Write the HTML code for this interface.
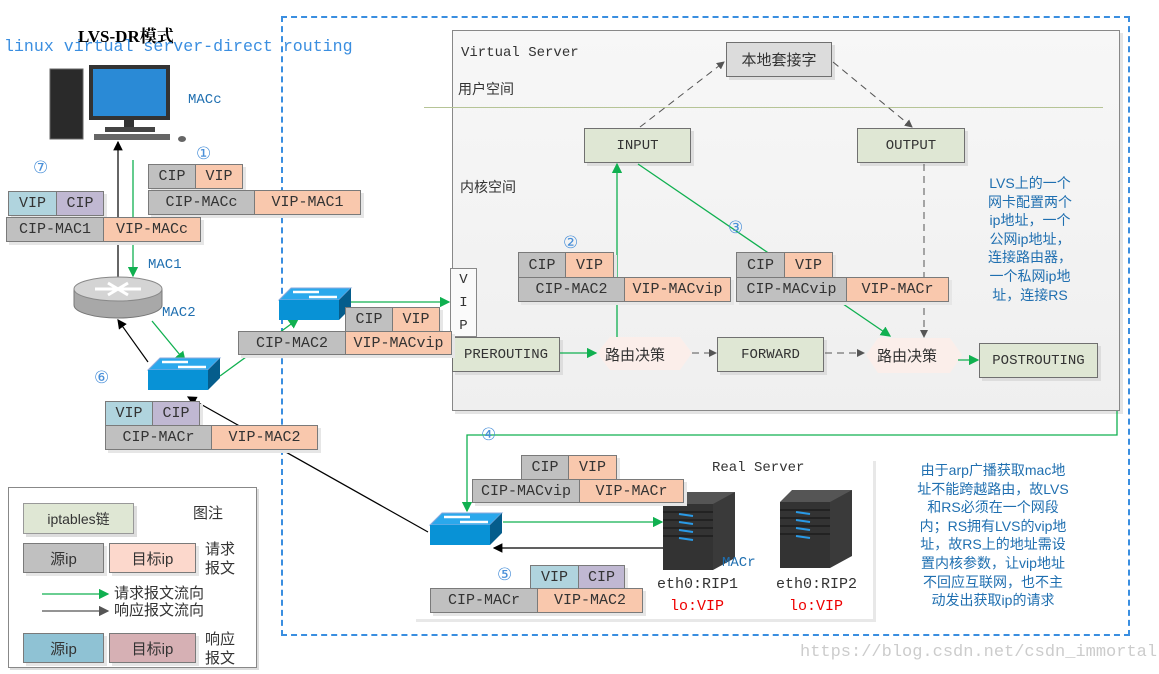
<!DOCTYPE html>
<html><head><meta charset="utf-8"><style>
body{margin:0;width:1159px;height:674px;background:#fff;position:relative;overflow:hidden;font-family:"Liberation Mono","Noto Sans CJK SC",monospace;}
.a{position:absolute;}
.c{position:absolute;box-sizing:border-box;border:1.5px solid #7a7a7a;font-size:15px;color:#333;display:flex;align-items:center;justify-content:center;box-shadow:3px 3px 0 #e6e6e6;}
.g{background:#c0c0c0}.s{background:#f9c8ad}.b{background:#b0d4de}.p{background:#c0b8d2}
.ch{position:absolute;box-sizing:border-box;border:1.5px solid #707070;background:#dfe7d4;font-size:14px;color:#333;display:flex;align-items:center;justify-content:center;box-shadow:3px 3px 0 #ddd;}
.cn{font-family:"Liberation Sans","Noto Sans CJK SC",sans-serif;}
.num{position:absolute;font-size:17px;color:#4a90d9;font-family:"DejaVu Sans",sans-serif;}
.blue{color:#1f6fb0;}
</style></head><body>
<div class="a" style="left:281px;top:16px;width:849px;height:620px;border:2px dashed #3a8ee0;box-sizing:border-box"></div>
<div class="a" style="left:452px;top:30px;width:668px;height:381px;background:linear-gradient(#f7f7f7,#efefef);border:1px solid #888;box-sizing:border-box;box-shadow:3px 3px 0 #e4e4e4"></div>
<div class="a" style="left:424px;top:107px;width:679px;height:1px;background:#b6c496"></div>
<div class="a" style="left:413px;top:458px;width:460px;height:161px;background:#fff;box-shadow:3px 3px 0 #e8e8e8"></div>

<div class="a" style="left:78px;top:22px;font-family:'Liberation Serif','Noto Serif CJK SC',serif;font-weight:bold;font-size:17px;color:#000">LVS-DR模式</div>
<div class="a" style="left:4px;top:37px;font-size:16.6px;color:#3a8ee0">linux virtual server-direct routing</div>

<div class="a" style="left:461px;top:45px;font-size:14px;color:#333">Virtual Server</div>
<div class="a cn" style="left:458px;top:79px;font-size:14px;color:#333">用户空间</div>
<div class="a cn" style="left:460px;top:177px;font-size:14px;color:#333">内核空间</div>

<div class="ch cn" style="left:726px;top:42px;width:106px;height:35px;background:#dcdcdc;font-size:15px">本地套接字</div>
<div class="ch" style="left:584px;top:128px;width:107px;height:35px">INPUT</div>
<div class="ch" style="left:857px;top:128px;width:108px;height:35px">OUTPUT</div>
<div class="a" style="left:450px;top:268px;width:27px;height:69px;background:#fafafa;border:1px solid #888;box-sizing:border-box;font-size:14px;line-height:23px;text-align:center;color:#333">V<br>I<br>P</div>
<div class="ch" style="left:452px;top:337px;width:108px;height:35px">PREROUTING</div>
<div class="ch" style="left:717px;top:337px;width:107px;height:35px">FORWARD</div>
<div class="ch" style="left:979px;top:343px;width:119px;height:35px">POSTROUTING</div>

<svg class="a" style="left:0;top:0" width="1159" height="674">
<defs>
<marker id="gm" markerWidth="8" markerHeight="8" refX="7" refY="4" orient="auto"><path d="M0,0L8,4L0,8z" fill="#10b050"/></marker>
<marker id="km" markerWidth="8" markerHeight="8" refX="7" refY="4" orient="auto"><path d="M0,0L8,4L0,8z" fill="#000"/></marker>
<marker id="dm" markerWidth="8" markerHeight="8" refX="7" refY="4" orient="auto"><path d="M0,0L8,4L0,8z" fill="#555"/></marker>
<g id="sw">
<polygon points="0,12 12,0 72,0 60,12" fill="#2aa8ec" stroke="#8ad"/>
<rect x="0" y="12" width="60" height="20" fill="#0892d6"/>
<polygon points="60,12 72,0 72,20 60,32" fill="#055d8c"/>
<path d="M14,4 L40,4 M30,9 L58,9" stroke="#fff" stroke-width="2.5"/>
</g>
<g id="sv">
<polygon points="0,12 12,0 72,0 60,12" fill="#555"/>
<rect x="0" y="12" width="50" height="66" fill="#333"/>
<polygon points="50,12 72,0 72,66 50,78" fill="#3a3a3a"/>
<path d="M0,20 L50,20 M0,28 L50,28 M0,36 L50,36 M0,44 L50,44" stroke="#222" stroke-width="2"/>
<path d="M16,22 L30,24 M16,30 L30,32 M16,38 L30,40 M16,46 L30,48" stroke="#2a9ae6" stroke-width="2"/>
</g>
</defs>
<polygon points="610,337 680,337 692,353 680,370 610,370 597,353" fill="#fbeeea"/>
<polygon points="878,338 950,338 962,355 950,373 878,373 866,355" fill="#fbeeea"/>
<g stroke="#10b050" stroke-width="1.3" fill="none" marker-end="url(#gm)">
<line x1="133" y1="160" x2="133" y2="276"/>
<line x1="152" y1="321" x2="185" y2="361"/>
<line x1="220" y1="376" x2="298" y2="319"/>
<line x1="351" y1="302" x2="449" y2="302"/>
<line x1="560" y1="353" x2="596" y2="353"/>
<line x1="617" y1="337" x2="617" y2="164"/>
<line x1="638" y1="164" x2="890" y2="336"/>
<line x1="958" y1="360" x2="978" y2="360"/>
<polyline points="1117,411 1117,435 467,435 467,511"/>
<line x1="503" y1="522" x2="662" y2="522"/>
</g>
<g stroke="#000" stroke-width="1.2" fill="none" marker-end="url(#km)">
<line x1="118" y1="278" x2="118" y2="142"/>
<line x1="148" y1="362" x2="118" y2="320"/>
<line x1="428" y1="532" x2="188" y2="397"/>
<line x1="663" y1="548" x2="494" y2="548"/>
</g>
<g stroke="#555" stroke-width="1" stroke-dasharray="7,5" fill="none" marker-end="url(#dm)">
<line x1="640" y1="127" x2="724" y2="62"/>
<line x1="833" y1="62" x2="912" y2="127"/>
<line x1="692" y1="353" x2="716" y2="353"/>
<line x1="825" y1="353" x2="864" y2="353"/>
<line x1="924" y1="164" x2="924" y2="337"/>
</g>
<rect x="50" y="69" width="33" height="70" fill="#2a2a2a" stroke="#666"/>
<rect x="89" y="65" width="81" height="55" fill="#333"/>
<rect x="93" y="69" width="73" height="47" fill="#2a8ad6"/>
<rect x="124" y="120" width="10" height="8" fill="#333"/>
<rect x="105" y="127" width="50" height="5" fill="#444"/>
<rect x="94" y="134" width="76" height="6" fill="#666"/>
<ellipse cx="182" cy="139" rx="4" ry="3" fill="#666"/>
<path d="M74,289 L74,305 A44,13 0 0 0 162,305 L162,289 Z" fill="#a8a8a8" stroke="#777"/>
<ellipse cx="118" cy="289" rx="44" ry="12" fill="#d4d4d4" stroke="#888"/>
<path d="M95,289 L141,289 M108,283 L128,295 M128,283 L108,295" stroke="#fff" stroke-width="3"/>
<use href="#sw" x="148" y="358"/>
<use href="#sw" x="279" y="288"/>
<use href="#sw" x="430" y="513"/>
<use href="#sv" x="663" y="492"/>
<use href="#sv" x="780" y="490"/>
</svg>

<div class="a cn" style="left:605px;top:344px;font-size:15px;color:#333">路由决策</div>
<div class="a cn" style="left:877px;top:345px;font-size:15px;color:#333">路由决策</div>

<div class="c g" style="left:148px;top:164px;width:48px;height:25px">CIP</div>
<div class="c s" style="left:195px;top:164px;width:48px;height:25px">VIP</div>
<div class="c g" style="left:148px;top:190px;width:107px;height:25px">CIP-MACc</div>
<div class="c s" style="left:254px;top:190px;width:107px;height:25px">VIP-MAC1</div>

<div class="c b" style="left:8px;top:191px;width:49px;height:25px">VIP</div>
<div class="c p" style="left:56px;top:191px;width:48px;height:25px">CIP</div>
<div class="c g" style="left:6px;top:217px;width:98px;height:25px">CIP-MAC1</div>
<div class="c s" style="left:103px;top:217px;width:98px;height:25px">VIP-MACc</div>

<div class="c g" style="left:345px;top:307px;width:48px;height:25px">CIP</div>
<div class="c s" style="left:392px;top:307px;width:48px;height:25px">VIP</div>
<div class="c g" style="left:238px;top:331px;width:108px;height:24px">CIP-MAC2</div>
<div class="c s" style="left:345px;top:331px;width:107px;height:24px">VIP-MACvip</div>

<div class="c b" style="left:105px;top:401px;width:48px;height:25px">VIP</div>
<div class="c p" style="left:152px;top:401px;width:48px;height:25px">CIP</div>
<div class="c g" style="left:105px;top:425px;width:107px;height:25px">CIP-MACr</div>
<div class="c s" style="left:211px;top:425px;width:107px;height:25px">VIP-MAC2</div>

<div class="c g" style="left:518px;top:252px;width:48px;height:26px">CIP</div>
<div class="c s" style="left:565px;top:252px;width:49px;height:26px">VIP</div>
<div class="c g" style="left:518px;top:277px;width:107px;height:25px">CIP-MAC2</div>
<div class="c s" style="left:624px;top:277px;width:107px;height:25px">VIP-MACvip</div>

<div class="c g" style="left:736px;top:252px;width:49px;height:26px">CIP</div>
<div class="c s" style="left:784px;top:252px;width:49px;height:26px">VIP</div>
<div class="c g" style="left:736px;top:277px;width:111px;height:25px">CIP-MACvip</div>
<div class="c s" style="left:846px;top:277px;width:103px;height:25px">VIP-MACr</div>

<div class="c g" style="left:521px;top:455px;width:48px;height:25px">CIP</div>
<div class="c s" style="left:568px;top:455px;width:49px;height:25px">VIP</div>
<div class="c g" style="left:472px;top:479px;width:108px;height:24px">CIP-MACvip</div>
<div class="c s" style="left:579px;top:479px;width:105px;height:24px">VIP-MACr</div>

<div class="c b" style="left:530px;top:565px;width:49px;height:25px">VIP</div>
<div class="c p" style="left:578px;top:565px;width:47px;height:25px">CIP</div>
<div class="c g" style="left:430px;top:588px;width:108px;height:25px">CIP-MACr</div>
<div class="c s" style="left:537px;top:588px;width:106px;height:25px">VIP-MAC2</div>

<div class="num" style="left:196px;top:144px">①</div>
<div class="num" style="left:33px;top:158px">⑦</div>
<div class="num" style="left:94px;top:368px">⑥</div>
<div class="num" style="left:563px;top:233px">②</div>
<div class="num" style="left:728px;top:218px">③</div>
<div class="num" style="left:481px;top:425px">④</div>
<div class="num" style="left:497px;top:565px">⑤</div>

<div class="a blue" style="left:188px;top:92px;font-size:14px">MACc</div>
<div class="a blue" style="left:148px;top:257px;font-size:14px">MAC1</div>
<div class="a blue" style="left:162px;top:305px;font-size:14px">MAC2</div>
<div class="a blue" style="left:722px;top:555px;font-size:14px">MACr</div>
<div class="a" style="left:712px;top:460px;font-size:14px;color:#333">Real Server</div>
<div class="a" style="left:657px;top:576px;font-size:15px;color:#333">eth0:RIP1</div>
<div class="a" style="left:776px;top:576px;font-size:15px;color:#333">eth0:RIP2</div>
<div class="a" style="left:670px;top:598px;font-size:15px;color:#e00">lo:VIP</div>
<div class="a" style="left:789px;top:598px;font-size:15px;color:#e00">lo:VIP</div>

<div class="a cn blue" style="left:975px;top:174px;width:110px;font-size:14px;line-height:18.6px;text-align:center">LVS上的一个<br>网卡配置两个<br>ip地址，一个<br>公网ip地址，<br>连接路由器，<br>一个私网ip地<br>址，连接RS</div>
<div class="a cn blue" style="left:908px;top:461px;width:170px;font-size:14px;line-height:18.6px;text-align:center">由于arp广播获取mac地<br>址不能跨越路由，故LVS<br>和RS必须在一个网段<br>内；RS拥有LVS的vip地<br>址，故RS上的地址需设<br>置内核参数，让vip地址<br>不回应互联网，也不主<br>动发出获取ip的请求</div>

<div class="a" style="left:8px;top:487px;width:249px;height:181px;border:1.5px solid #888;box-sizing:border-box;background:#fff;box-shadow:2px 2px 0 #ddd"></div>
<svg class="a" style="left:0;top:0" width="260" height="674">
<defs>
<marker id="gm2" markerWidth="8" markerHeight="8" refX="7" refY="4" orient="auto"><path d="M0,0L8,4L0,8z" fill="#10b050"/></marker>
<marker id="dm2" markerWidth="8" markerHeight="8" refX="7" refY="4" orient="auto"><path d="M0,0L8,4L0,8z" fill="#555"/></marker>
</defs>
<line x1="42" y1="594" x2="108" y2="594" stroke="#10b050" stroke-width="1.3" marker-end="url(#gm2)"/>
<line x1="42" y1="611" x2="108" y2="611" stroke="#555" stroke-width="1.3" marker-end="url(#dm2)"/>
</svg>
<div class="ch cn" style="left:23px;top:503px;width:111px;height:31px;border-color:#999">iptables链</div>
<div class="a cn" style="left:193px;top:502px;font-size:15px;color:#333">图注</div>
<div class="c g cn" style="left:23px;top:543px;width:81px;height:30px">源ip</div>
<div class="c cn" style="left:109px;top:543px;width:87px;height:30px;background:#fcd8cc">目标ip</div>
<div class="a cn" style="left:205px;top:540px;font-size:15px;color:#333;line-height:19px">请求<br>报文</div>
<div class="a cn" style="left:114px;top:585px;font-size:15px;color:#333;line-height:17px">请求报文流向<br>响应报文流向</div>
<div class="c cn" style="left:23px;top:633px;width:81px;height:30px;background:#8fc2d4">源ip</div>
<div class="c cn" style="left:109px;top:633px;width:87px;height:30px;background:#d6b0b4">目标ip</div>
<div class="a cn" style="left:205px;top:630px;font-size:15px;color:#333;line-height:19px">响应<br>报文</div>

<div class="a" style="left:800px;top:643px;font-size:17px;color:#ccc">https://blog.csdn.net/csdn_immortal</div>
</body></html>
